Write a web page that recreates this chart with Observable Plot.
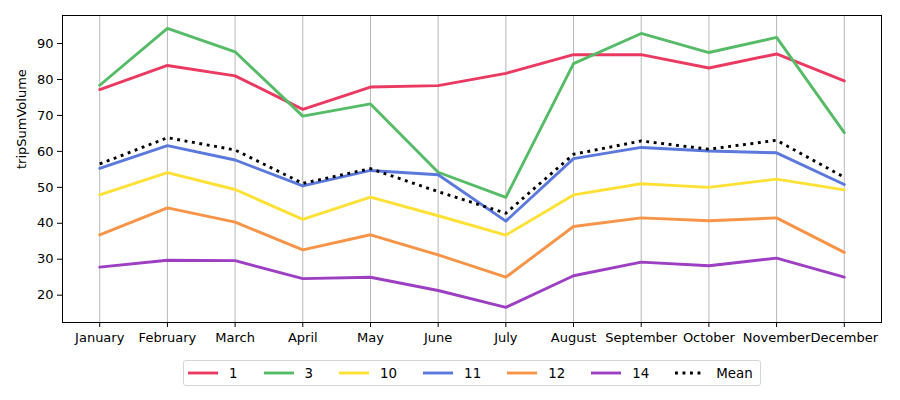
<!DOCTYPE html>
<html>
<head>
<meta charset="utf-8">
<script src="https://cdn.jsdelivr.net/npm/d3@7"></script>
<script src="https://cdn.jsdelivr.net/npm/@observablehq/plot@0.6"></script>
<style>
  body { margin: 0; background: #fff; font-family: "DejaVu Sans", sans-serif; }
  #wrap { position: relative; width: 900px; height: 400px; }
  #legend { position: absolute; left: 183px; top: 360px; height: 26px; border: 1px solid #d5d5d5; border-radius: 3px;
            display: flex; align-items: center; padding: 0 0 0 4px; font-size: 13.4px; color: #000; box-sizing: border-box; width: 578px; }
  .item { display: flex; align-items: center; margin-right: 26px; }
  .item:last-child { margin-right: 0; }
  .sw { width: 30px; height: 6px; margin-right: 11px; display: block; }
</style>
</head>
<body>
<div id="wrap"><div id="chart"></div><div id="legend"></div></div>
<script>
const months = ["January","February","March","April","May","June","July","August","September","October","November","December"];
const seriesNames = ["1","3","10","11","12","14","Mean"];
const s1  = [77.2, 83.9, 81.0, 71.7, 77.9, 78.3, 81.7, 86.9, 86.9, 83.2, 87.1, 79.6];
const s3  = [78.4, 94.2, 87.7, 69.8, 73.2, 54.2, 47.2, 84.4, 92.8, 87.5, 91.7, 65.2];
const s10 = [47.9, 54.1, 49.4, 41.1, 47.3, 42.1, 36.7, 47.9, 51.0, 50.0, 52.3, 49.3];
const s11 = [55.3, 61.6, 57.6, 50.4, 54.7, 53.5, 40.6, 58.0, 61.1, 60.1, 59.6, 50.8];
const s12 = [36.8, 44.3, 40.3, 32.6, 36.8, 31.2, 25.0, 39.1, 41.5, 40.7, 41.5, 31.9];
const s14 = [27.8, 29.7, 29.6, 24.6, 25.0, 21.3, 16.6, 25.4, 29.2, 28.2, 30.3, 25.0];
const meanVals = [56.5, 63.8, 60.4, 51.1, 55.2, 48.8, 42.8, 59.2, 62.9, 60.6, 63.1, 52.8];
const yTicks = [20, 30, 40, 50, 60, 70, 80, 90];
const colors = ["#ea3a62", "#55bb66", "#ffe135", "#5b78dd", "#f79448", "#9d3fc2", "#000000"];

const allSeries = [s1, s3, s10, s11, s12, s14, meanVals];
const data = [];
allSeries.forEach((arr, si) => arr.forEach((v, i) => data.push({month: months[i], value: v, series: seriesNames[si]})));
const lineData = data.filter(d => d.series !== "Mean");
const meanData = data.filter(d => d.series === "Mean");

const chart = Plot.plot({
  width: 900,
  height: 345,
  marginLeft: 62,
  marginRight: 19,
  marginTop: 15,
  marginBottom: 23,
  style: {fontFamily: "DejaVu Sans, sans-serif", fontSize: "13px", color: "#000", background: "#fff"},
  x: {type: "point", domain: months, padding: 0.55, round: false, label: null},
  y: {domain: [12.4, 97.8], ticks: yTicks, label: null},
  color: {domain: seriesNames, range: colors},
  marks: [
    Plot.gridX(months, {stroke: "#b0b0b0", strokeOpacity: 1, strokeWidth: 0.9}),
    Plot.axisX({tickSize: 5, tickPadding: 5, label: null, fontSize: 13}),
    Plot.axisY({tickSize: 5, tickPadding: 4, ticks: yTicks, label: null, fontSize: 13}),
    Plot.line(lineData, {x: "month", y: "value", z: "series", stroke: "series", strokeWidth: 2.9, strokeLinejoin: "round"}),
    Plot.line(meanData, {x: "month", y: "value", stroke: "#000", strokeWidth: 2.9, strokeDasharray: "2.9,4.6", strokeLinecap: "butt"}),
    Plot.frame({stroke: "#000", strokeWidth: 1}),
    Plot.text(["tripSumVolume"], {frameAnchor: "left", dx: -41, rotate: -90, fontSize: 13, fill: "#000"})
  ]
});
document.getElementById("chart").appendChild(chart);

const legend = document.getElementById("legend");
const NS = "http://www.w3.org/2000/svg";
seriesNames.forEach((name, i) => {
  const item = document.createElement("div");
  item.className = "item";
  const sw = document.createElementNS(NS, "svg");
  sw.setAttribute("class", "sw");
  sw.setAttribute("width", "30");
  sw.setAttribute("height", "6");
  const ln = document.createElementNS(NS, "line");
  ln.setAttribute("x1", "0"); ln.setAttribute("x2", "30");
  ln.setAttribute("y1", "3"); ln.setAttribute("y2", "3");
  ln.setAttribute("stroke", colors[i]);
  ln.setAttribute("stroke-width", "2.9");
  if (name === "Mean") ln.setAttribute("stroke-dasharray", "2.9,4.6");
  sw.appendChild(ln);
  const label = document.createElement("span");
  label.textContent = name;
  item.appendChild(sw);
  item.appendChild(label);
  legend.appendChild(item);
});
</script>
</body>
</html>
